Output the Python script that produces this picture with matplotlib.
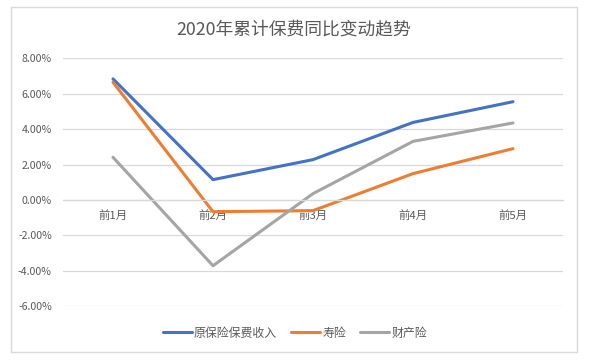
import matplotlib
matplotlib.use('Agg')
import matplotlib.pyplot as plt
from matplotlib.patches import Rectangle

plt.rcParams['font.family'] = ['Noto Sans CJK SC', 'DejaVu Sans']

months = ['前1月', '前2月', '前3月', '前4月', '前5月']
premium_total = [6.84, 1.15, 2.28, 4.38, 5.55]
life = [6.65, -0.66, -0.60, 1.49, 2.90]
property_ins = [2.41, -3.71, 0.36, 3.31, 4.35]
yticks = [-6, -4, -2, 0, 2, 4, 6, 8]

text_color = '#595959'
grid_color = '#D9D9D9'

fig = plt.figure(figsize=(5.92, 3.62), dpi=100)
ax = fig.add_axes([63 / 592, 1 - 306.3 / 362, 500 / 592, (306.3 - 58.3) / 362])

x = range(len(months))
ax.plot(x, premium_total, color='#4472C4', lw=2.2, label='原保险保费收入', solid_capstyle='round')
ax.plot(x, life, color='#ED7D31', lw=2.2, label='寿险', solid_capstyle='round')
ax.plot(x, property_ins, color='#A5A5A5', lw=2.2, label='财产险', solid_capstyle='round')

ax.set_xlim(-0.5, len(months) - 0.5)
ax.set_ylim(-6, 8)
ax.set_yticks(yticks)
ax.set_yticklabels(['%.2f%%' % v for v in yticks])
ax.set_xticks(list(x))
ax.set_xticklabels(months)
ax.grid(axis='y', color=grid_color, lw=0.9)
ax.set_axisbelow(True)
for s in ['top', 'right', 'left']:
    ax.spines[s].set_visible(False)
ax.spines['bottom'].set_position(('data', 0))
ax.spines['bottom'].set_color(grid_color)
ax.spines['bottom'].set_linewidth(0.9)
ax.tick_params(axis='y', length=0, colors=text_color, labelsize=7.6, pad=8)
ax.tick_params(axis='x', length=0, colors=text_color, labelsize=8.2, pad=7)

fig.text(294 / 592, 1 - 29 / 362, '2020年累计保费同比变动趋势', ha='center', va='center',
         fontsize=12.8, color=text_color)

fig.legend(loc='center', bbox_to_anchor=(295 / 592, 1 - 333 / 362), ncol=3, frameon=False,
           fontsize=8.6, labelcolor=text_color, handlelength=2.4, handletextpad=0.2,
           columnspacing=1.2)

fig.patches.append(Rectangle((11 / 592, 1 - 352 / 362), 566 / 592, 345 / 362,
                             transform=fig.transFigure, fill=False, edgecolor=grid_color, lw=1))

fig.savefig('out.png', dpi=100)
